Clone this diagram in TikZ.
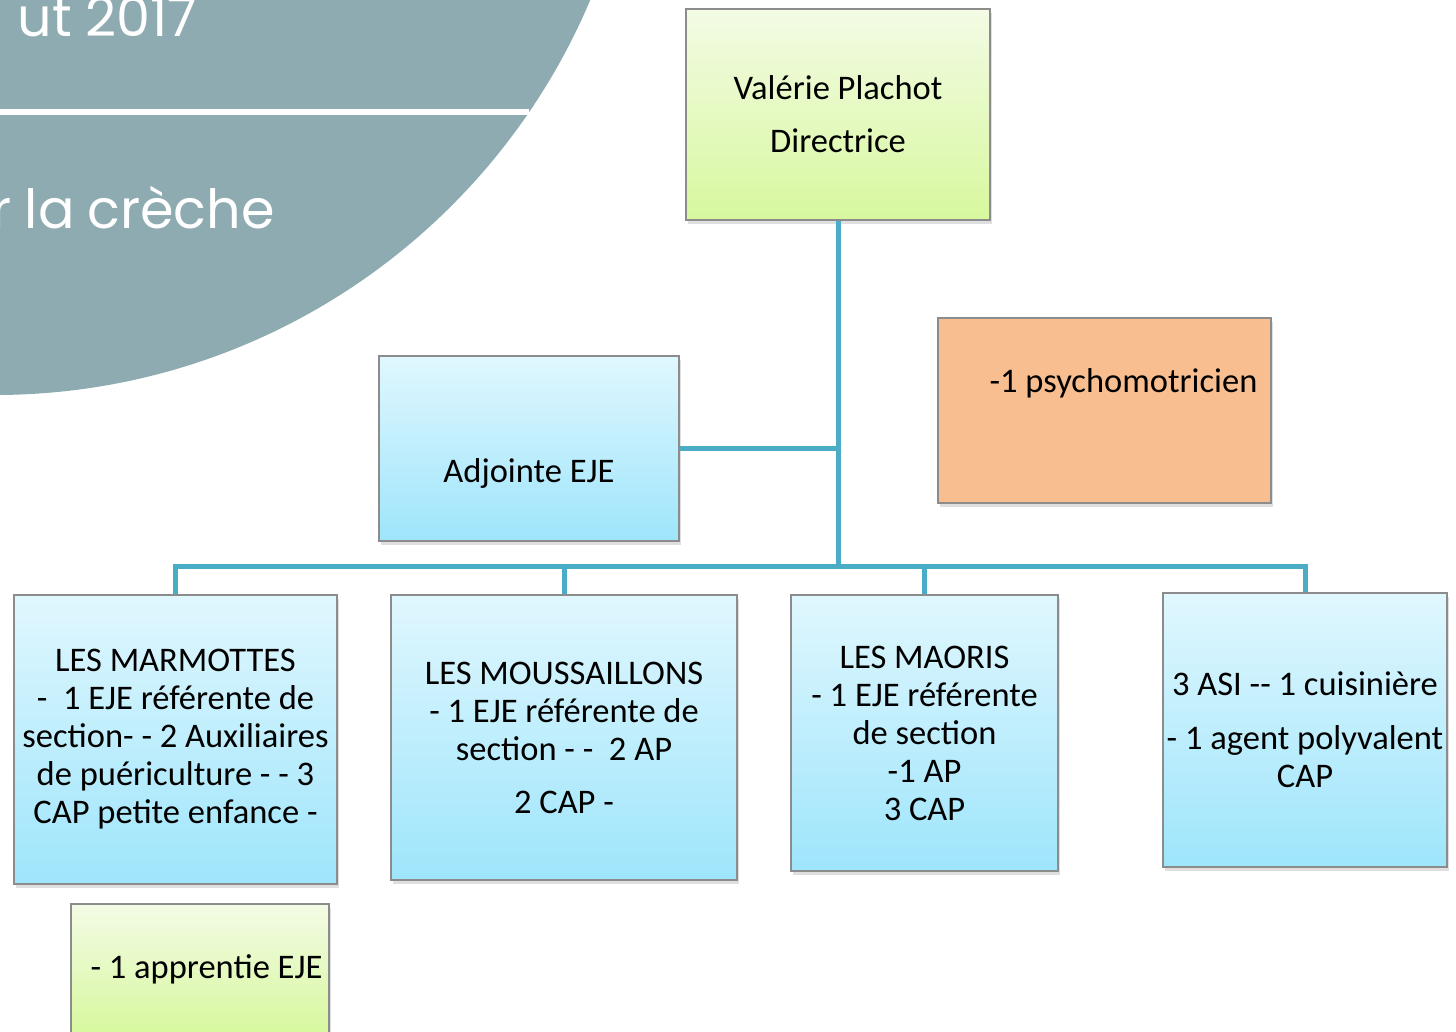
\documentclass[tikz,border=0pt]{standalone}
\usepackage{fontspec}
\setmainfont{Carlito}
\newfontfamily\titlefont[WordSpace=0.9]{Poppins}
\usetikzlibrary{shadows}

\definecolor{slate}{RGB}{142,171,177}
\definecolor{linkblue}{RGB}{75,172,198}
\definecolor{bluetop}{RGB}{224,247,254}
\definecolor{bluebot}{RGB}{158,229,251}
\definecolor{greentop}{RGB}{243,251,229}
\definecolor{greenbot}{RGB}{215,248,158}
\definecolor{peach}{RGB}{248,190,144}
\definecolor{rim}{RGB}{140,140,140}

\tikzstyle{box}=[rectangle,draw=rim,line width=1.2pt,align=center,font=\fontsize{34.5}{38}\selectfont,drop shadow={shadow xshift=2pt,shadow yshift=-4pt,opacity=0.25}]
\tikzstyle{bluebox}=[box,top color=bluetop,bottom color=bluebot]
\tikzstyle{greenbox}=[box,top color=greentop,bottom color=greenbot]
\tikzstyle{peachbox}=[box,fill=peach]
\tikzstyle{link}=[draw=linkblue,line width=5pt]
\tikzstyle{title}=[text=white,font=\titlefont\fontsize{54}{54}\selectfont,anchor=base east,inner sep=0pt]

\begin{document}
\begin{tikzpicture}[x=1pt,y=-1pt]
	\useasboundingbox (0,0) rectangle (1456,1031);
	\clip (0,0) rectangle (1456,1031);

	% Title disc
	\fill[slate] (-5.5,-251.5) circle (646.5);
	\draw[white,line width=6pt] (0,111.5) -- (529,111.5);
	\node[title] (year) at (197,36) {ut 2017};
	\node[title] (creche) at (275,228) {r la crèche};

	% Boxes
	\node[greenbox,minimum width=304,minimum height=211] (dir) at (838,114.5) {Valérie Plachot\\[15pt]Directrice};
	\node[bluebox,minimum width=300,minimum height=185,text height=75pt,text depth=7pt] (adj) at (529,448.5) {Adjointe EJE};
	\node[peachbox,minimum width=333,minimum height=185,text height=25pt,text depth=62pt] (psy) at (1104.5,410.5) {\hspace*{38pt}-1 psychomotricien};

	\node[bluebox,minimum width=323,minimum height=289] (marm) at (175.5,739.5) {LES MARMOTTES\\-\ \ 1 EJE référente de\\section- - 2 Auxiliaires\\de puériculture - - 3\\CAP petite enfance -};
	\node[bluebox,minimum width=346,minimum height=285] (mous) at (564,737.5) {LES MOUSSAILLONS\\- 1 EJE référente de\\section - -\ \ 2 AP\\[15pt]2 CAP -};
	\node[bluebox,minimum width=267,minimum height=276] (maor) at (924.5,733) {LES MAORIS\\- 1 EJE référente\\de section\\-1 AP\\3 CAP};
	\node[bluebox,minimum width=284,minimum height=274] (asi) at (1305,730) {3 ASI -{}- 1 cuisinière\\[16pt]- 1 agent polyvalent\\CAP};
	\node[greenbox,minimum width=258,minimum height=130] (appr) at (200,969) {\hspace*{13pt}- 1 apprentie EJE};

	% Links
	\coordinate (hub) at (838,566);
	\draw[link] (dir.south) -- (hub);
	\draw[link] (adj.east) -- (adj.east -| hub);
	\draw[link] (marm.north) |- (hub) -| (asi.north);
	\draw[link] (mous.north) -- (mous.north |- hub);
	\draw[link] (maor.north) -- (maor.north |- hub);
\end{tikzpicture}
\end{document}
